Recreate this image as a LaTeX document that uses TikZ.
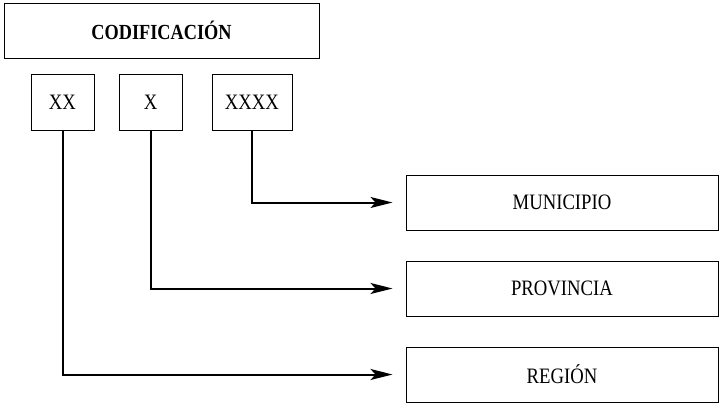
\documentclass[tikz,border=0pt]{standalone}
\usepackage{fontspec}
\setmainfont[FakeStretch=0.85]{Liberation Serif}
\usetikzlibrary{arrows.meta}
\begin{document}
\begin{tikzpicture}[x=1pt,y=1pt,
  box/.style={draw, line width=1pt, inner sep=0pt, font=\fontsize{22}{26}\selectfont},
  conn/.style={line width=2pt, -{Stealth[length=22pt,width=11pt,inset=5pt]}}]
\useasboundingbox (0,0) rectangle (719,-405);
\node[box, minimum width=315, minimum height=55, font=\fontsize{21.5}{26}\selectfont\bfseries] (cod) at (161.5,-30.5) {CODIFICACIÓN};
\node[box, minimum width=63, minimum height=56] (xx) at (62.5,-102) {XX};
\node[box, minimum width=63, minimum height=56] (x) at (150.5,-102) {X};
\node[box, minimum width=80, minimum height=56] (xxxx) at (252,-102) {XXXX};
\node[box, minimum width=312, minimum height=55] (mun) at (562,-202.5) {MUNICIPIO};
\node[box, minimum width=312, minimum height=55] (prov) at (562,-288.5) {PROVINCIA};
\node[box, minimum width=312, minimum height=55] (reg) at (562,-374.5) {REGIÓN};
\draw[conn] (xxxx.south) |- ([xshift=-13pt]mun.west);
\draw[conn] (x.south) |- ([xshift=-13pt]prov.west);
\draw[conn] (xx.south) |- ([xshift=-13pt]reg.west);
\end{tikzpicture}
\end{document}
